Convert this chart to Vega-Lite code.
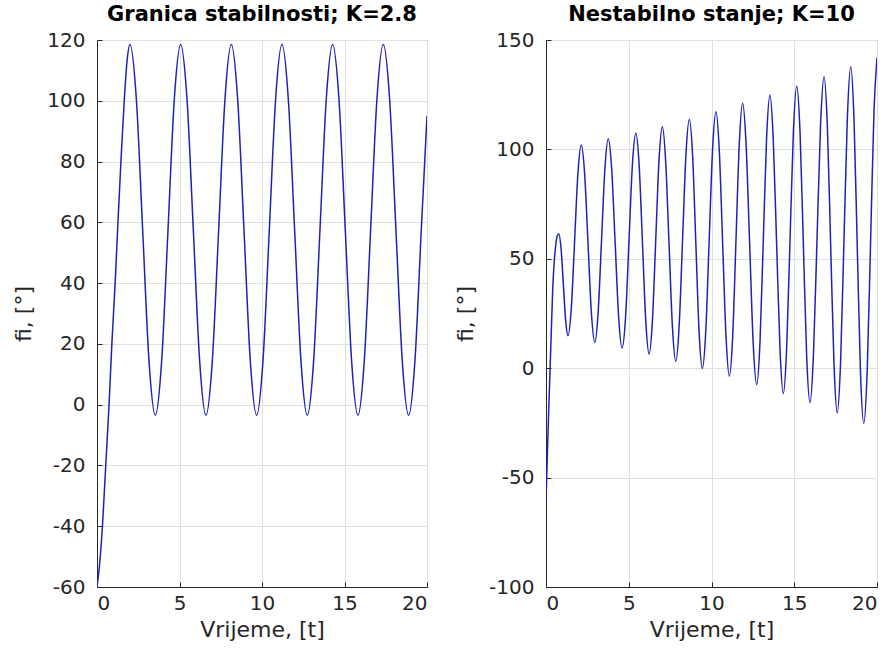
{
  "$schema": "https://vega.github.io/schema/vega-lite/v6.json",
  "background": "white",
  "padding": {"left": 12, "top": 3, "right": 5, "bottom": 5},
  "spacing": 26,
  "datasets": {
    "left": [
      {"t": 0, "v": -60}, {"t": 0.15, "v": -53}, {"t": 0.33, "v": -40}, {"t": 0.53, "v": -20},
      {"t": 0.73, "v": 0}, {"t": 0.9, "v": 20}, {"t": 1.1, "v": 40}, {"t": 1.27, "v": 60},
      {"t": 1.45, "v": 80}, {"t": 1.65, "v": 100}, {"t": 1.82, "v": 113}, {"t": 2.0, "v": 118.5},
      {"t": 2.384, "v": 100.6}, {"t": 2.768, "v": 57.5}, {"t": 3.151, "v": 14.4}, {"t": 3.535, "v": -3.5},
      {"t": 3.919, "v": 14.4}, {"t": 4.303, "v": 57.5}, {"t": 4.686, "v": 100.6}, {"t": 5.07, "v": 118.5},
      {"t": 5.454, "v": 100.6}, {"t": 5.838, "v": 57.5}, {"t": 6.221, "v": 14.4}, {"t": 6.605, "v": -3.5},
      {"t": 6.989, "v": 14.4}, {"t": 7.373, "v": 57.5}, {"t": 7.756, "v": 100.6}, {"t": 8.14, "v": 118.5},
      {"t": 8.524, "v": 100.6}, {"t": 8.908, "v": 57.5}, {"t": 9.291, "v": 14.4}, {"t": 9.675, "v": -3.5},
      {"t": 10.059, "v": 14.4}, {"t": 10.443, "v": 57.5}, {"t": 10.826, "v": 100.6}, {"t": 11.21, "v": 118.5},
      {"t": 11.594, "v": 100.6}, {"t": 11.978, "v": 57.5}, {"t": 12.361, "v": 14.4}, {"t": 12.745, "v": -3.5},
      {"t": 13.129, "v": 14.4}, {"t": 13.513, "v": 57.5}, {"t": 13.896, "v": 100.6}, {"t": 14.28, "v": 118.5},
      {"t": 14.664, "v": 100.6}, {"t": 15.048, "v": 57.5}, {"t": 15.431, "v": 14.4}, {"t": 15.815, "v": -3.5},
      {"t": 16.199, "v": 14.4}, {"t": 16.583, "v": 57.5}, {"t": 16.966, "v": 100.6}, {"t": 17.35, "v": 118.5},
      {"t": 17.734, "v": 100.6}, {"t": 18.118, "v": 57.5}, {"t": 18.501, "v": 14.4}, {"t": 18.885, "v": -3.5},
      {"t": 19.269, "v": 14.4}, {"t": 19.653, "v": 57.5}, {"t": 20.0, "v": 95}
    ],
    "right": [
      {"t": 0, "v": -60}, {"t": 0.05, "v": -48}, {"t": 0.1, "v": -35}, {"t": 0.2, "v": -11}, {"t": 0.3, "v": 12},
      {"t": 0.41, "v": 37}, {"t": 0.5, "v": 49}, {"t": 0.6, "v": 57}, {"t": 0.68, "v": 60.5},
      {"t": 0.77, "v": 61.5}, {"t": 0.91, "v": 54.7}, {"t": 1.05, "v": 38.2}, {"t": 1.19, "v": 21.6},
      {"t": 1.33, "v": 14.8}, {"t": 1.53, "v": 27.6}, {"t": 1.73, "v": 58.4}, {"t": 1.93, "v": 89.2},
      {"t": 2.13, "v": 102}, {"t": 2.335, "v": 88.8}, {"t": 2.54, "v": 56.9}, {"t": 2.745, "v": 25.0},
      {"t": 2.95, "v": 11.8}, {"t": 3.15, "v": 25.4}, {"t": 3.355, "v": 58.35}, {"t": 3.56, "v": 91.3},
      {"t": 3.76, "v": 104.9}, {"t": 3.97, "v": 90.9}, {"t": 4.18, "v": 57.1}, {"t": 4.39, "v": 23.2},
      {"t": 4.6, "v": 9.2}, {"t": 4.81, "v": 23.6}, {"t": 5.015, "v": 58.3}, {"t": 5.22, "v": 93.0},
      {"t": 5.43, "v": 107.4}, {"t": 5.63, "v": 92.6}, {"t": 5.83, "v": 57.0}, {"t": 6.03, "v": 21.3},
      {"t": 6.23, "v": 6.5}, {"t": 6.43, "v": 21.7}, {"t": 6.63, "v": 58.5}, {"t": 6.83, "v": 95.2},
      {"t": 7.03, "v": 110.4}, {"t": 7.23, "v": 94.7}, {"t": 7.435, "v": 56.8}, {"t": 7.64, "v": 18.8},
      {"t": 7.84, "v": 3.1}, {"t": 8.045, "v": 19.3}, {"t": 8.25, "v": 58.4}, {"t": 8.455, "v": 97.5},
      {"t": 8.66, "v": 113.7}, {"t": 8.86, "v": 97.0}, {"t": 9.055, "v": 56.8}, {"t": 9.25, "v": 16.6},
      {"t": 9.45, "v": -0.1}, {"t": 9.655, "v": 17.1}, {"t": 9.86, "v": 58.6}, {"t": 10.065, "v": 100.0},
      {"t": 10.27, "v": 117.2}, {"t": 10.47, "v": 99.5}, {"t": 10.675, "v": 56.8}, {"t": 10.88, "v": 14.0},
      {"t": 11.08, "v": -3.7}, {"t": 11.28, "v": 14.6}, {"t": 11.48, "v": 58.7}, {"t": 11.68, "v": 102.8},
      {"t": 11.88, "v": 121.1}, {"t": 12.09, "v": 102.3}, {"t": 12.305, "v": 56.8}, {"t": 12.52, "v": 11.3},
      {"t": 12.73, "v": -7.5}, {"t": 12.93, "v": 11.9}, {"t": 13.13, "v": 58.7}, {"t": 13.33, "v": 105.5},
      {"t": 13.53, "v": 124.9}, {"t": 13.73, "v": 104.9}, {"t": 13.935, "v": 56.7}, {"t": 14.14, "v": 8.4},
      {"t": 14.34, "v": -11.6}, {"t": 14.54, "v": 9.0}, {"t": 14.745, "v": 58.7}, {"t": 14.95, "v": 108.4},
      {"t": 15.15, "v": 129}, {"t": 15.35, "v": 107.8}, {"t": 15.55, "v": 56.7}, {"t": 15.75, "v": 5.5},
      {"t": 15.95, "v": -15.7}, {"t": 16.16, "v": 6.1}, {"t": 16.375, "v": 58.8}, {"t": 16.59, "v": 111.4},
      {"t": 16.8, "v": 133.2}, {"t": 17.0, "v": 110.7}, {"t": 17.2, "v": 56.4}, {"t": 17.4, "v": 2.1},
      {"t": 17.6, "v": -20.4}, {"t": 17.8, "v": 2.8}, {"t": 18.005, "v": 58.7}, {"t": 18.21, "v": 114.6},
      {"t": 18.41, "v": 137.8}, {"t": 18.61, "v": 113.9}, {"t": 18.805, "v": 56.3}, {"t": 19.0, "v": -1.4},
      {"t": 19.2, "v": -25.3}, {"t": 19.41, "v": -0.7}, {"t": 19.615, "v": 58.6}, {"t": 19.82, "v": 117.9},
      {"t": 20.0, "v": 142}
    ]
  },
  "config": {
    "font": "DejaVu Sans",
    "view": {"stroke": "#262626", "strokeWidth": 1},
    "axis": {
      "labelFont": "DejaVu Sans", "labelFontSize": 20, "labelColor": "#262626",
      "titleFont": "DejaVu Sans", "titleFontSize": 22, "titleFontWeight": "normal", "titleColor": "#262626",
      "domainColor": "#262626", "tickColor": "#262626", "tickSize": -5,
      "gridColor": "#e0e0e0", "gridOpacity": 1,
      "labelExpr": "replace(datum.label, '−', '-')"
    },
    "axisX": {"labelPadding": 11, "titlePadding": 6},
    "axisY": {"labelPadding": 17, "titlePadding": 11},
    "title": {"font": "DejaVu Sans", "fontSize": 21, "fontWeight": "bold", "color": "#000000", "offset": 5}
  },
  "hconcat": [
    {
      "width": 330, "height": 547,
      "title": "Granica stabilnosti; K=2.8",
      "data": {"name": "left"},
      "mark": {"type": "line", "interpolate": "monotone", "color": "#2020b8", "strokeWidth": 1.5, "clip": true},
      "encoding": {
        "x": {"field": "t", "type": "quantitative", "scale": {"domain": [0, 20], "nice": false},
              "axis": {"title": "Vrijeme, [t]", "values": [0, 5, 10, 15, 20]}},
        "y": {"field": "v", "type": "quantitative", "scale": {"domain": [-60, 120], "nice": false, "zero": false},
              "axis": {"title": "fi, [°]", "values": [-60, -40, -20, 0, 20, 40, 60, 80, 100, 120]}}
      }
    },
    {
      "width": 331, "height": 547,
      "title": "Nestabilno stanje; K=10",
      "data": {"name": "right"},
      "mark": {"type": "line", "interpolate": "monotone", "color": "#2020b8", "strokeWidth": 1.5, "clip": true},
      "encoding": {
        "x": {"field": "t", "type": "quantitative", "scale": {"domain": [0, 20], "nice": false},
              "axis": {"title": "Vrijeme, [t]", "values": [0, 5, 10, 15, 20]}},
        "y": {"field": "v", "type": "quantitative", "scale": {"domain": [-100, 150], "nice": false, "zero": false},
              "axis": {"title": "fi, [°]", "values": [-100, -50, 0, 50, 100, 150]}}
      }
    }
  ]
}
